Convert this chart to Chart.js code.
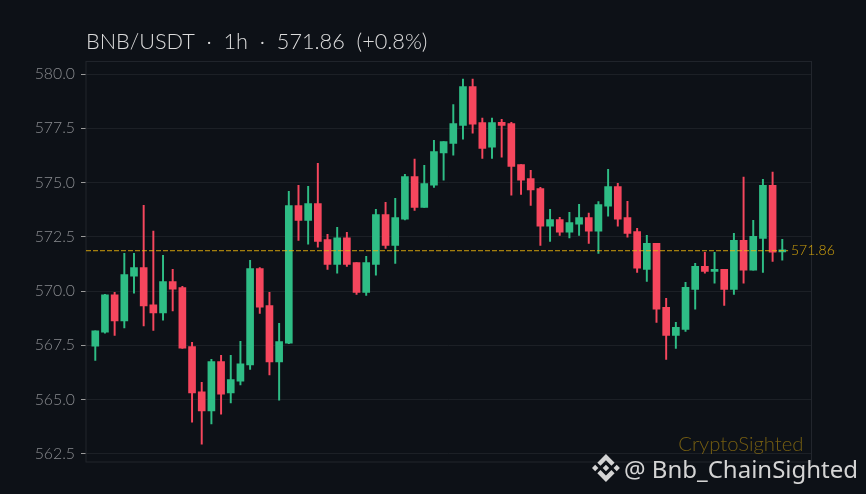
<!DOCTYPE html>
<html>
<head>
<meta charset="utf-8">
<title>BNB/USDT</title>
<script src="https://cdn.jsdelivr.net/npm/chart.js@4"></script>
<style>
  html, body { margin: 0; padding: 0; background: #0d1117; }
  #wrap { position: relative; width: 866px; height: 494px; overflow: hidden; }
  #watermark { position: absolute; left: 592px; top: 452px; height: 32px; display: flex; align-items: center;
    color: #d4d4d4; font: 24px "Noto Sans", sans-serif; white-space: pre; }
  #watermark svg { width: 28px; height: 28px; margin-right: 4px; fill: #d4d4d4; }
</style>
</head>
<body>
<div id="wrap">
  <canvas id="chart" width="866" height="494"></canvas>
  <div id="watermark">
    <svg viewBox="0 0 126 126"><path d="M38.2 53.2 62.8 28.6l24.6 24.6 14.3-14.3L62.8 0 23.9 38.9z"/><path d="M0 62.8l14.3-14.3 14.3 14.3-14.3 14.3z"/><path d="M38.2 72.3 62.8 96.9l24.6-24.6 14.3 14.3-38.9 38.9-38.9-38.9z"/><path d="M96.9 62.8l14.3-14.3 14.3 14.3-14.3 14.3z"/><path d="M77.3 62.8 62.8 48.2 48.2 62.8l14.6 14.5z"/></svg><span>@ Bnb_ChainSighted</span>
  </div>
</div>
<script>
// valores, um por vela
const opens = [567.46, 568.11, 569.83, 568.62, 570.69, 571.08, 569.37, 568.99, 570.44, 570.16, 567.44, 565.36,
  564.47, 566.75, 565.30, 565.85, 566.59, 571.04, 569.33, 566.73, 567.60, 573.94, 573.26, 574.03,
  572.37, 571.23, 572.46, 571.31, 569.94, 571.23, 573.53, 572.11, 573.31, 575.28, 573.86, 574.88,
  576.37, 576.81, 577.64, 579.43, 577.77, 576.63, 577.78, 577.72, 575.83, 575.19, 574.72, 572.99,
  573.29, 572.71, 573.08, 573.39, 572.76, 573.91, 574.82, 573.39, 572.74, 571.00, 572.20, 569.25,
  567.96, 568.23, 570.08, 571.14, 570.91, 571.00, 570.08, 572.34, 570.96, 572.43, 574.88, 571.81];
const closes = [568.17, 569.83, 568.62, 570.76, 571.08, 569.31, 568.99, 570.44, 570.09, 567.37, 565.30, 564.47,
  566.75, 565.25, 565.92, 566.65, 571.04, 569.26, 566.73, 567.67, 573.94, 573.26, 574.03, 572.29,
  571.23, 572.46, 571.23, 569.94, 571.31, 573.53, 572.11, 573.39, 575.28, 573.86, 574.96, 576.43,
  576.89, 577.72, 579.43, 577.69, 576.58, 577.77, 577.64, 575.75, 575.11, 574.66, 572.99, 573.29,
  572.71, 573.16, 573.39, 572.76, 573.99, 574.82, 573.31, 572.66, 571.05, 572.20, 569.16, 567.96,
  568.33, 570.17, 571.14, 570.91, 571.00, 570.08, 572.34, 570.96, 572.52, 574.88, 571.79, 571.90];
const highs = [568.17, 569.85, 569.94, 571.74, 571.74, 573.95, 572.76, 571.65, 571.00, 570.22, 567.64, 565.79,
  566.85, 567.04, 567.04, 567.68, 571.42, 571.08, 569.94, 568.51, 574.60, 574.88, 574.83, 575.89,
  572.62, 572.94, 572.71, 571.31, 571.60, 573.77, 574.09, 574.28, 575.38, 576.08, 575.80, 576.95,
  576.89, 578.60, 579.77, 579.77, 577.97, 577.97, 577.92, 577.78, 575.83, 575.57, 574.78, 573.77,
  573.40, 573.63, 574.00, 573.59, 574.13, 575.61, 574.97, 574.14, 572.89, 572.57, 572.20, 569.66,
  568.56, 570.40, 571.28, 571.79, 571.79, 571.00, 572.66, 575.25, 573.26, 575.15, 575.48, 572.39];
const lows = [566.80, 568.06, 567.96, 568.30, 569.90, 568.39, 568.19, 568.66, 569.08, 567.36, 563.96, 562.94,
  563.87, 564.33, 564.84, 565.67, 566.39, 568.97, 566.13, 564.97, 567.58, 572.34, 572.16, 572.02,
  571.00, 570.82, 571.14, 569.85, 569.80, 570.73, 571.97, 571.28, 573.28, 573.72, 573.86, 574.78,
  575.11, 576.26, 577.00, 577.28, 576.12, 576.12, 576.17, 574.42, 574.46, 573.95, 572.11, 572.29,
  572.57, 572.45, 572.57, 572.20, 571.74, 573.45, 572.99, 572.48, 570.86, 570.45, 568.56, 566.85,
  567.36, 568.14, 569.16, 570.82, 570.36, 569.34, 569.85, 570.36, 570.96, 570.86, 571.37, 571.42];
const yTicks = [562.5, 565, 567.5, 570, 572.5, 575, 577.5, 580];
const lastPrice = 571.86;

const titleText = 'BNB/USDT  ·  1h  ·  571.86  (+0.8%)';
const upColor = '#2ebd85';
const downColor = '#f6465d';
const priceColor = 'rgba(240, 185, 11, 0.85)';
const uiFont = 'Lato, sans-serif';

const candleColors = closes.map((c, i) => (c >= opens[i] ? upColor : downColor));
const bodies = opens.map((o, i) => ({ x: i, y: [o, closes[i]] }));
const wicks = lows.map((l, i) => ({ x: i, y: [l, highs[i]] }));

// textos que ficam sobre o grafico
const overlayText = {
  id: 'overlayText',
  afterDraw(chart) {
    const { ctx, chartArea, scales } = chart;
    ctx.save();
    ctx.textBaseline = 'middle';
    ctx.font = '300 14px ' + uiFont;
    ctx.fillStyle = priceColor;
    ctx.textAlign = 'left';
    ctx.fillText(lastPrice.toFixed(2), scales.x.getPixelForValue(71.9), scales.y.getPixelForValue(lastPrice));
    ctx.font = '300 20.3px ' + uiFont;
    ctx.fillStyle = 'rgba(240, 185, 11, 0.45)';
    ctx.textAlign = 'right';
    ctx.fillText('CryptoSighted', chartArea.right - 8, chartArea.bottom - 18);
    ctx.restore();
  }
};

// borda da area do grafico
const plotBorder = {
  id: 'plotBorder',
  beforeDatasetsDraw(chart) {
    const { ctx, chartArea: a } = chart;
    ctx.save();
    ctx.strokeStyle = '#22262d';
    ctx.lineWidth = 1;
    ctx.strokeRect(a.left, a.top, a.width, a.height);
    ctx.restore();
  }
};

new Chart(document.getElementById('chart'), {
  type: 'bar',
  data: {
    datasets: [
      { type: 'line', data: [{ x: -0.96, y: lastPrice }, { x: 71.6, y: lastPrice }], borderColor: priceColor,
        borderWidth: 1, borderDash: [5, 2], pointRadius: 0, order: 0 },
      { data: bodies, backgroundColor: candleColors, barThickness: 7, order: 1 },
      { data: wicks, backgroundColor: candleColors, barThickness: 1.3, order: 2 }
    ]
  },
  plugins: [plotBorder, overlayText],
  options: {
    responsive: false,
    animation: false,
    events: [],
    layout: { padding: { top: 29, right: 54.5, bottom: 32, left: 0 } },
    datasets: { bar: { grouped: false } },
    plugins: {
      legend: { display: false },
      tooltip: { enabled: false },
      title: {
        display: true, text: titleText, align: 'start', fullSize: false, color: '#dcdcdc',
        font: { family: uiFont, size: 21.7, weight: 300 }, padding: { top: 0, bottom: 6.4 }
      }
    },
    scales: {
      x: { type: 'linear', display: false, offset: false, min: -0.96, max: 74.02 },
      y: {
        min: 562.12, max: 580.586,
        afterBuildTicks(scale) { scale.ticks = yTicks.map(v => ({ value: v })); },
        afterFit(scale) { scale.width = 86; },
        grid: { color: '#1c2026', lineWidth: 1, tickColor: '#9a9a9a', tickLength: 5, drawTicks: true },
        border: { display: false },
        ticks: {
          color: '#8a8c90', padding: 6,
          font: { family: uiFont, size: 15.8, weight: 300 },
          callback: v => v.toFixed(1)
        }
      }
    }
  }
});
</script>
</body>
</html>
